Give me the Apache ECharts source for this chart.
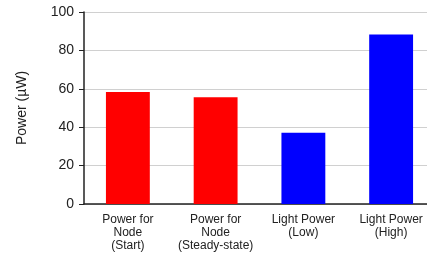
<!DOCTYPE html>
<html>
<head>
<meta charset="utf-8">
<script src="https://cdn.jsdelivr.net/npm/echarts@6/dist/echarts.min.js"></script>
<style>
  html, body { margin: 0; padding: 0; background: #fff; overflow: hidden; }
  #chart { width: 427px; height: 255px; }
</style>
</head>
<body>
<div id="chart"></div>
<script>
// 数据
var categories = [
  "Power for\nNode\n(Start)",
  "Power for\nNode\n(Steady-state)",
  "Light Power\n(Low)",
  "Light Power\n(High)"
];
var values = [58.3, 55.6, 37.1, 88.3];
var barColors = ["#ff0000", "#ff0000", "#0000ff", "#0000ff"];
var yTicks = [0, 20, 40, 60, 80, 100];

var myChart = echarts.init(document.getElementById("chart"));
var option = {
  animation: false,
  grid: {
    top: 12,
    left: 84,
    right: -8,
    bottom: 51,
    outerBoundsMode: "none"
  },
  xAxis: {
    type: "category",
    data: categories,
    axisLine: { show: true, lineStyle: { color: "#222", width: 1.5 } },
    axisTick: { show: false },
    axisLabel: {
      color: "#222",
      fontFamily: "Liberation Sans, Arial",
      fontSize: 12,
      lineHeight: 13,
      margin: 9,
      interval: 0
    }
  },
  yAxis: {
    type: "value",
    min: yTicks[0],
    max: yTicks[yTicks.length - 1],
    interval: 20,
    name: "Power (\u00b5W)",
    nameLocation: "middle",
    nameGap: 55,
    nameTextStyle: {
      color: "#222",
      fontFamily: "Liberation Sans, Arial",
      fontSize: 14
    },
    axisLine: { show: true, lineStyle: { color: "#222", width: 1.5 } },
    axisTick: { show: true, inside: false, length: 5, lineStyle: { color: "#222" } },
    axisLabel: {
      color: "#222",
      fontFamily: "Liberation Sans, Arial",
      fontSize: 14,
      margin: 10
    },
    splitLine: {
      show: true,
      lineStyle: { color: "#d0d0d0", width: 1 }
    }
  },
  series: [
    {
      type: "bar",
      barWidth: "50%",
      data: values.map(function (v, i) {
        return { value: v, itemStyle: { color: barColors[i] } };
      })
    }
  ]
};
myChart.setOption(option);
</script>
</body>
</html>
